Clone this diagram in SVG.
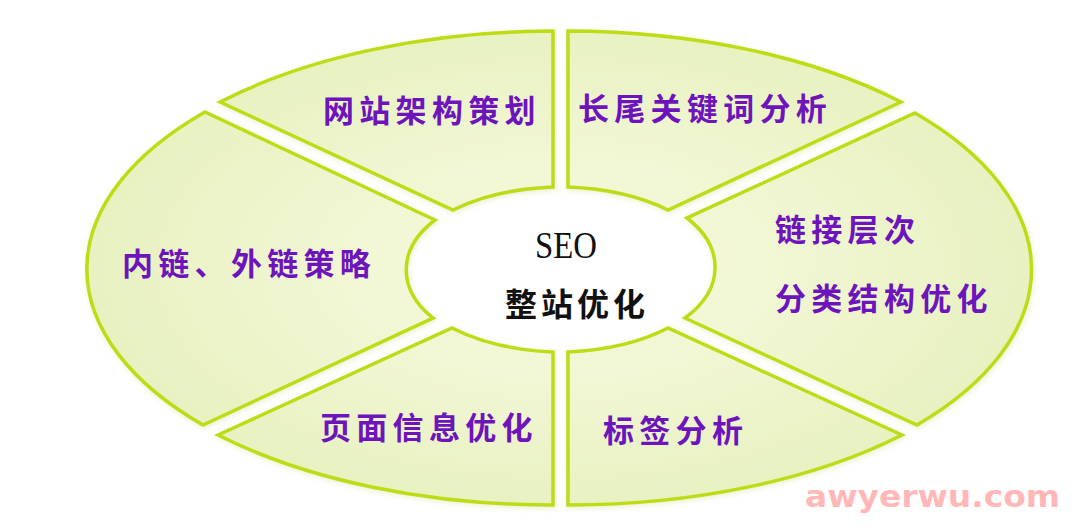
<svg xmlns="http://www.w3.org/2000/svg" width="1080" height="529" viewBox="0 0 1080 529">
  <style>
    .seg { fill: url(#segFill); stroke: #bedc14; stroke-width: 3.5; stroke-linejoin: miter; filter: url(#soft); }
    .lbl { font-family: "Noto Sans CJK SC", "Noto Sans", sans-serif; font-weight: 700; font-size: 31px; fill: #6e14bc; letter-spacing: 5.3px; }
    .ctr { font-family: "Noto Sans CJK SC", "Noto Sans", sans-serif; font-weight: 700; font-size: 32px; fill: #111111; letter-spacing: 4px; }
    .seo { font-family: "Liberation Serif", "Noto Sans CJK SC", serif; font-size: 37px; fill: #111111; }
    .wm { font-family: "DejaVu Sans", sans-serif; font-weight: 700; font-size: 31px; fill: #ffb8b8; }
  </style>
  <defs>
    <radialGradient id="segFill" gradientUnits="userSpaceOnUse" cx="560" cy="268" r="480" gradientTransform="translate(560 268) scale(1 0.52) translate(-560 -268)">
      <stop offset="0" stop-color="#f6f9e0"/>
      <stop offset="0.5" stop-color="#f1f6d2"/>
      <stop offset="1" stop-color="#e7f1c0"/>
    </radialGradient>
    <filter id="soft" x="-5%" y="-5%" width="110%" height="115%">
      <feDropShadow dx="1" dy="2" stdDeviation="2.5" flood-color="#a8c030" flood-opacity="0.22"/>
    </filter>
  </defs>
  <rect width="1080" height="529" fill="#ffffff"/>

  <g id="seg-site-architecture">
    <path class="seg" d="M 220 102 A 470 238 0 0 1 553 31 L 553 187 A 160 80 0 0 0 453 210 Z"/>
    <text class="lbl" x="323" y="122">网站架构策划</text>
  </g>
  <g id="seg-longtail">
    <path class="seg" d="M 568 31 A 470 238 0 0 1 901 102 L 668 210 A 160 80 0 0 0 568 187 Z"/>
    <text class="lbl" x="578" y="120">长尾关键词分析</text>
  </g>
  <g id="seg-links">
    <path class="seg" d="M 205 112 L 435 220 A 125 78 0 0 0 433 318 L 203 425 A 475 238 0 0 1 205 112 Z"/>
    <text class="lbl" x="122" y="275">内链、外链策略</text>
  </g>
  <g id="seg-structure">
    <path class="seg" d="M 915 113 A 472 238 0 0 1 917 425 L 685 318 A 125 78 0 0 0 687 218 Z"/>
    <text class="lbl" x="775" y="241">链接层次</text>
    <text class="lbl" x="775" y="310">分类结构优化</text>
  </g>
  <g id="seg-page-info">
    <path class="seg" d="M 452 328 A 160 80 0 0 0 553 352 L 553 505 A 470 238 0 0 1 218 435 Z"/>
    <text class="lbl" x="320" y="439">页面信息优化</text>
  </g>
  <g id="seg-tags">
    <path class="seg" d="M 568 352 A 160 80 0 0 0 668 328 L 902 435 A 470 238 0 0 1 568 505 Z"/>
    <text class="lbl" x="603" y="442">标签分析</text>
  </g>

  <g id="center">
    <text class="seo" x="535" y="258" textLength="62" lengthAdjust="spacingAndGlyphs">SEO</text>
    <text class="ctr" x="505" y="316">整站优化</text>
  </g>

  <g id="connectors"></g>

  <text class="wm" x="805" y="507" textLength="255" lengthAdjust="spacingAndGlyphs">awyerwu.com</text>
</svg>
